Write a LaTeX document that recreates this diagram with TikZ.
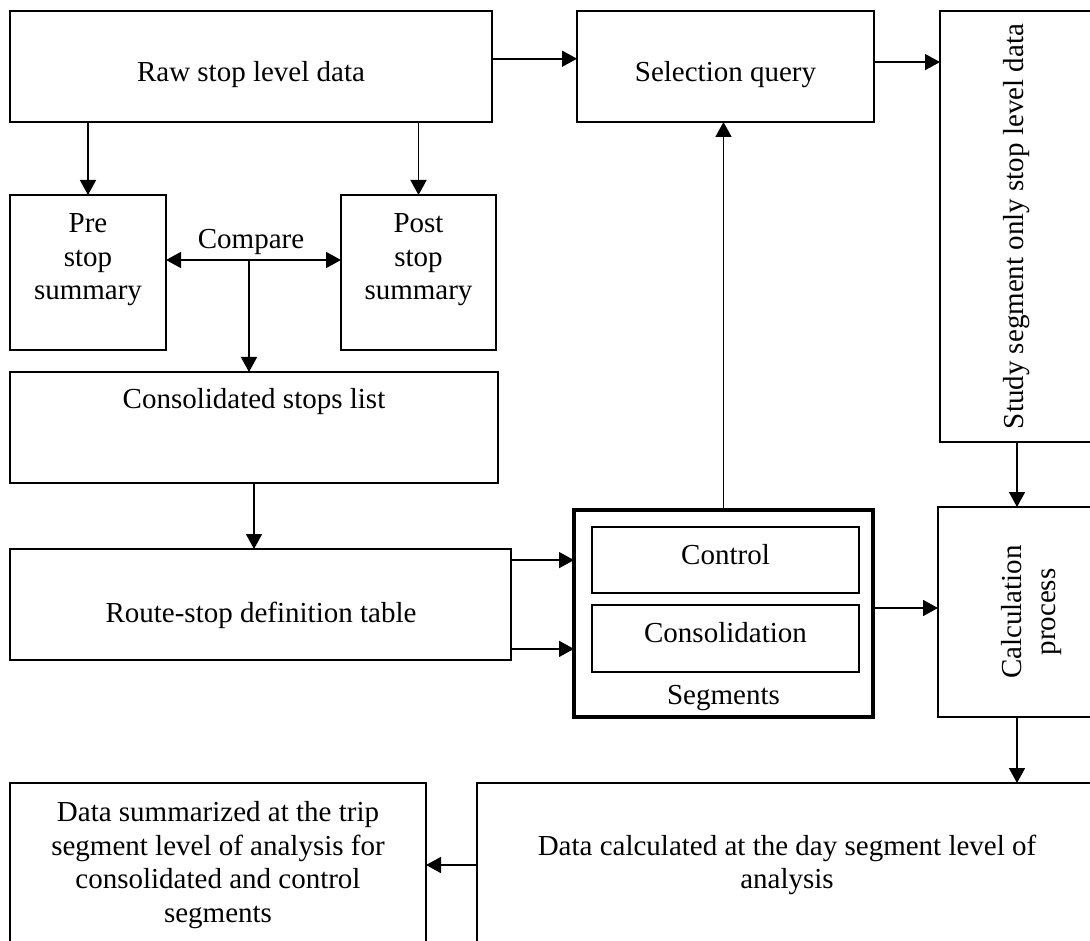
\documentclass[tikz,border=0pt]{standalone}
\usepackage{fontspec}
\setmainfont{Liberation Serif}
\usetikzlibrary{arrows.meta,calc}
\begin{document}
\begin{tikzpicture}[x=1pt,y=-1pt,
  every node/.style={font=\fontsize{29}{33.5}\selectfont, inner sep=0pt, outer sep=0pt},
  box/.style={draw, line width=1.6pt, rectangle},
  thickbox/.style={draw, line width=3.2pt, rectangle},
  innerbox/.style={draw, line width=2pt, rectangle},
  txt/.style={align=center},
  arr/.style={-{Triangle[length=15pt,width=16pt]}, line width=1.6pt},
  darr/.style={{Triangle[length=15pt,width=16pt]}-{Triangle[length=15pt,width=16pt]}, line width=1.6pt}]
\useasboundingbox (0,0) rectangle (1090,941);
\clip (0,0) rectangle (1090,941);

% boxes
\node[box, minimum width=482, minimum height=111] (raw) at (251,66.5) {};
\node[box, minimum width=297, minimum height=111] (sel) at (725.5,66.5) {};
\node[box, minimum width=154, minimum height=431] (study) at (1017,226.5)
  {\rotatebox{90}{Study segment only stop level data}};
\node[box, minimum width=156, minimum height=155] (pre) at (88,272.5) {};
\node[box, minimum width=155, minimum height=155] (post) at (418.5,272.5) {};
\node[box, minimum width=488, minimum height=111] (cons) at (254,427.5) {};
\node[box, minimum width=501, minimum height=111] (route) at (260.5,604.5) {};
\node[thickbox, minimum width=299, minimum height=207] (seg) at (723.5,613.5) {};
\node[innerbox, minimum width=267, minimum height=66] (control) at (725.5,560) {};
\node[innerbox, minimum width=267, minimum height=67] (consol) at (725.5,638.5) {};
\node[box, minimum width=188, minimum height=210] (calc) at (1032,612)
  {\rotatebox{90}{\def\arraystretch{1}\begin{tabular}{@{}c@{}}Calculation\\process\end{tabular}}};
\node[box, minimum width=620, minimum height=164, txt] (datacalc) at (787,865)
  {Data calculated at the day segment level of\\analysis};
\node[box, minimum width=416, minimum height=164, txt] (datasum) at (218,865)
  {Data summarized at the trip\\segment level of analysis for\\consolidated and control\\segments};

% texts
\node (rawt) at (251,75) {Raw stop level data};
\node (selt) at (725.5,75) {Selection query};
\node[txt] (pret) at (88,260) {Pre\\stop\\summary};
\node[txt] (postt) at (418.5,260) {Post\\stop\\summary};
\node (cmpt) at (251,241.6) {Compare};
\node (const) at (254,401.5) {Consolidated stops list};
\node (routet) at (261,615) {Route-stop definition table};
\node (controlt) at (725.5,555) {Control};
\node (consolt) at (725.5,633) {Consolidation};
\node (segt) at (723.5,698.3) {Segments};

% connectors
\coordinate (cmp) at (249,260);
\coordinate (a1) at ($(raw.north east)!0.43!(raw.south east)$);
\coordinate (s1) at ($(sel.north east)!0.46!(sel.south east)$);
\coordinate (r1) at ($(route.south east)!0.9!(route.north east)$);
\coordinate (r2) at ($(route.south east)!0.1!(route.north east)$);
\coordinate (c1) at ($(calc.west)+(0,-4)$);
\draw[arr] (a1) -- (a1 -| sel.west);
\draw[arr] (s1) -- (s1 -| study.west);
\draw[arr] (raw.south -| pre.north) -- (pre.north);
\draw[arr] (raw.south -| post.north) -- (post.north);
\draw[darr] (cmp -| pre.east) -- (cmp -| post.west);
\draw[arr] (cmp) -- (cmp |- cons.north);
\draw[arr] (cons.south) -- (cons.south |- route.north);
\draw[arr] (r1) -- (r1 -| seg.west);
\draw[arr] (r2) -- (r2 -| seg.west);
\draw[arr] (seg.north) -- (seg.north |- sel.south);
\draw[arr] (c1 -| seg.east) -- (c1);
\draw[arr] (study.south) -- (study.south |- calc.north);
\draw[arr] (calc.south -| study.south) -- (datacalc.north -| study.south);
\draw[arr] (datacalc.west |- datasum.east) -- (datasum.east);
\end{tikzpicture}
\end{document}
